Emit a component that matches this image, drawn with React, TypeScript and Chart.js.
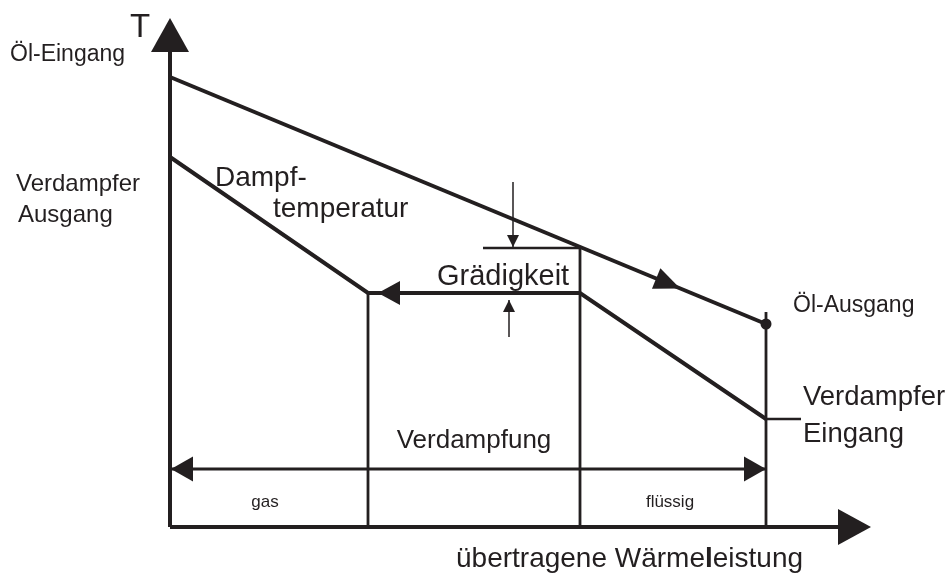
import React, { useEffect, useRef } from 'react';
import { Chart, registerables } from 'chart.js';

Chart.register(...registerables);

// ---- data (diagram units: x = transferred heat, y = temperature) ----
const axisX = [0, 668];
const axisY = [0, 475];
const oilX = [0, 596];
const oilY = [450, 203];
const steamX = [0, 198, 410, 596];
const steamY = [370, 234, 234, 108];
const boundaryX = [198, 410, 596];
const boundaryTop = [234, 279, 215];
const rangeY = 58;
const pinchLineX = [313, 410];
const pinchY = 279;
const pinchArrowDownX = 343;
const pinchArrowDownY = [345, 280];
const pinchArrowUpX = 339;
const pinchArrowUpY = [190, 227];
const evapInletTickX = [596, 631];
const axisTipX = 701;
const axisTipY = 509;

type Label = { text: string; x: number; y: number; size: number; align?: CanvasTextAlign };
const labels: Label[] = [
  { text: 'T', x: -40, y: 490, size: 33 },
  { text: 'Öl-Eingang', x: -160, y: 466, size: 23 },
  { text: 'Verdampfer', x: -154, y: 336, size: 24 },
  { text: 'Ausgang', x: -152, y: 305, size: 24 },
  { text: 'Dampf-', x: 45, y: 341, size: 28 },
  { text: 'temperatur', x: 103, y: 310, size: 28 },
  { text: 'Grädigkeit', x: 267, y: 242, size: 29 },
  { text: 'Öl-Ausgang', x: 623, y: 215, size: 23 },
  { text: 'Verdampfer', x: 633, y: 122, size: 27.5 },
  { text: 'Eingang', x: 633, y: 85, size: 27.5 },
  { text: 'Verdampfung', x: 304, y: 79, size: 26, align: 'center' },
  { text: 'gas', x: 95, y: 20, size: 17, align: 'center' },
  { text: 'flüssig', x: 500, y: 20, size: 17, align: 'center' },
];
const xTitleParts = ['übertragene Wärme', 'l', 'eistung'];
const xTitlePos = { x: 286, y: -40, size: 28 };

const INK = '#231f20';
const FONT = '"Liberation Sans", Arial, sans-serif';

function seg(xs: number[], ys: number[]) {
  return xs.map((x, i) => ({ x, y: ys[i] }));
}

export default function App() {
  const ref = useRef<HTMLCanvasElement | null>(null);

  useEffect(() => {
    if (!ref.current) return;
    const line = (data: { x: number; y: number }[], width: number) => ({
      data,
      showLine: true,
      borderColor: INK,
      backgroundColor: INK,
      borderWidth: width,
      pointRadius: 0,
      pointHoverRadius: 0,
      fill: false,
      clip: false as any,
    });

    const datasets: any[] = [
      line(seg([0, 0], axisY), 4),
      line(seg(axisX, [0, 0]), 4),
      line(seg(oilX, oilY), 4),
      line(seg(steamX, steamY), 4),
      ...boundaryX.map((bx, i) => line(seg([bx, bx], [0, boundaryTop[i]]), 2.8)),
      line(seg(pinchLineX, [pinchY, pinchY]), 2.5),
      line(seg([pinchArrowDownX, pinchArrowDownX], pinchArrowDownY), 1.5),
      line(seg([pinchArrowUpX, pinchArrowUpX], pinchArrowUpY), 1.5),
      line(seg(evapInletTickX, [steamY[3], steamY[3]]), 2.5),
      line(seg([1, oilX[1]], [rangeY, rangeY]), 3),
      {
        data: [{ x: oilX[1], y: oilY[1] }],
        pointRadius: 5.5,
        pointHoverRadius: 5.5,
        pointBackgroundColor: INK,
        pointBorderWidth: 0,
        showLine: false,
        clip: false,
      },
    ];

    const decor = {
      id: 'decor',
      afterDatasetsDraw(chart: any) {
        const ctx: CanvasRenderingContext2D = chart.ctx;
        const xs = chart.scales.x;
        const ys = chart.scales.y;
        const px = (v: number) => xs.getPixelForValue(v);
        const py = (v: number) => ys.getPixelForValue(v);
        const arrow = (tx: number, ty: number, fx: number, fy: number, L: number, W: number) => {
          const ax = px(tx), ay = py(ty), bx = px(fx), by = py(fy);
          const dx = ax - bx, dy = ay - by;
          const d = Math.hypot(dx, dy);
          const ux = dx / d, uy = dy / d;
          const cx = ax - ux * L, cy = ay - uy * L;
          ctx.beginPath();
          ctx.moveTo(ax, ay);
          ctx.lineTo(cx - uy * W, cy + ux * W);
          ctx.lineTo(cx + uy * W, cy - ux * W);
          ctx.closePath();
          ctx.fill();
        };
        ctx.save();
        ctx.fillStyle = INK;
        arrow(0, axisTipY, 0, 0, 34, 19);
        arrow(axisTipX, 0, 0, 0, 33, 18);
        const f = 0.856;
        arrow(oilX[0] + (oilX[1] - oilX[0]) * f, oilY[0] + (oilY[1] - oilY[0]) * f, oilX[0], oilY[0], 26, 11);
        arrow(208, steamY[1], steamX[2], steamY[2], 22, 12);
        arrow(1, rangeY, oilX[1], rangeY, 22, 12.5);
        arrow(oilX[1], rangeY, 1, rangeY, 22, 12.5);
        arrow(pinchArrowDownX, pinchArrowDownY[1], pinchArrowDownX, pinchArrowDownY[0], 12, 6);
        arrow(pinchArrowUpX, pinchArrowUpY[1], pinchArrowUpX, pinchArrowUpY[0], 12, 6);

        ctx.textBaseline = 'alphabetic';
        for (const l of labels) {
          ctx.font = `${l.size}px ${FONT}`;
          ctx.textAlign = l.align || 'left';
          ctx.fillText(l.text, px(l.x), py(l.y));
        }
        ctx.textAlign = 'left';
        let cx = px(xTitlePos.x);
        const cy = py(xTitlePos.y);
        xTitleParts.forEach((t, i) => {
          ctx.font = `${i === 1 ? 'bold ' : ''}${xTitlePos.size}px ${FONT}`;
          ctx.fillText(t, cx, cy);
          cx += ctx.measureText(t).width;
        });
        ctx.restore();
      },
    };

    const chart = new Chart(ref.current, {
      type: 'scatter',
      data: { datasets },
      options: {
        responsive: false,
        animation: false,
        events: [],
        layout: { padding: 0, autoPadding: false },
        plugins: { legend: { display: false }, tooltip: { enabled: false }, title: { display: false } },
        scales: {
          x: { type: 'linear', min: -170, max: 780, display: false },
          y: { type: 'linear', min: -47, max: 527, display: false },
        },
      },
      plugins: [decor],
    });
    return () => chart.destroy();
  }, []);

  return (
    <div style={{ position: 'fixed', left: 0, top: 0, width: 950, height: 574, background: '#fff' }}>
      <canvas ref={ref} width={950} height={574} />
    </div>
  );
}
